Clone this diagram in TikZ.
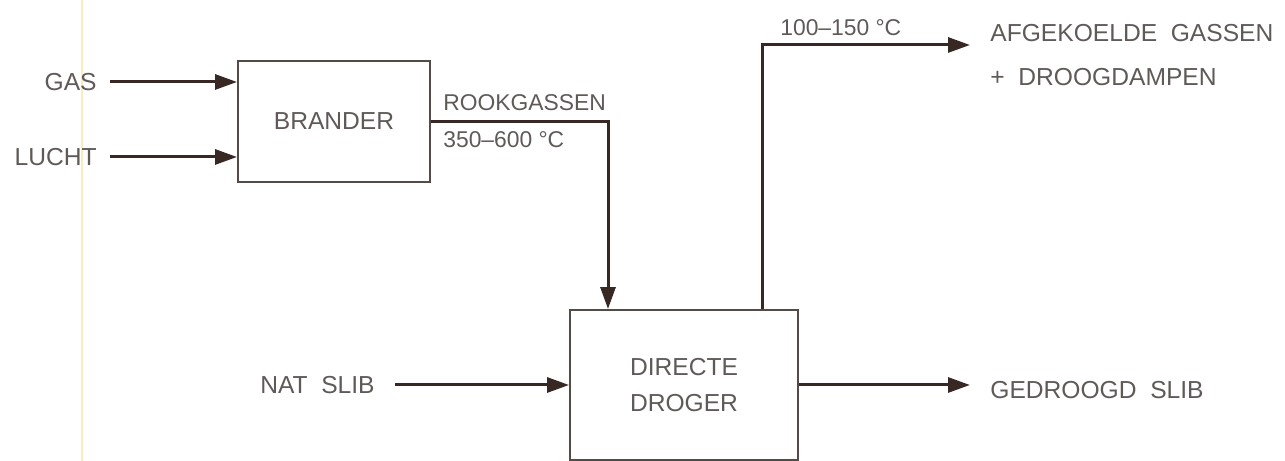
\documentclass[tikz,border=0pt]{standalone}
\usepackage{fontspec}
\setmainfont{Liberation Sans}
\usetikzlibrary{arrows.meta, positioning, calc}
\definecolor{flowline}{RGB}{55,40,35}
\definecolor{boxline}{RGB}{85,75,70}
\definecolor{labelgray}{RGB}{95,90,88}
\definecolor{scanyellow}{RGB}{252,236,190}

\begin{document}
\begin{tikzpicture}[
    box/.style={draw=boxline, line width=1.1pt, align=center,
                font=\fontsize{14}{20}\selectfont, text=labelgray},
    lbl/.style={font=\fontsize{14}{25}\selectfont, text=labelgray, inner sep=0pt, align=left},
    tmp/.style={font=\fontsize{13}{16}\selectfont, text=labelgray, inner sep=0pt},
    arr/.style={-{Triangle[length=4.4mm, width=3mm]}, line width=1.7pt, flowline}
  ]
    \useasboundingbox (0,0) rectangle (25.7,9.22);
    \draw[scanyellow, line width=1.2pt] (1.64,0) -- (1.64,9.22);

    \node[box, minimum width=3.84cm, minimum height=2.42cm] (brander) at (6.68,6.79) {BRANDER};
    \node[box, minimum width=4.56cm, minimum height=3.0cm] (droger) at (13.68,1.52) {DIRECTE\\DROGER};

    \node[lbl, anchor=east] (gas)   at (1.94,7.58) {GAS};
    \node[lbl, anchor=east] (lucht) at (1.94,6.08) {LUCHT};
    \node[lbl, anchor=east] (natslib) at (7.5,1.52) {NAT\ \ SLIB};
    \node[lbl, anchor=west] (afgas) at (19.8,8.11) {AFGEKOELDE\ \ GASSEN\\+\ \ DROOGDAMPEN};
    \node[lbl, anchor=west] (gedroogd) at (19.8,1.42) {GEDROOGD\ \ SLIB};

    \node[tmp, anchor=west] (rook) at (8.86,7.16) {ROOKGASSEN};
    \node[tmp, anchor=west] (heet) at (8.86,6.42) {350--600 \textdegree C};
    \node[tmp, anchor=west] (koud) at (15.6,8.66) {100--150 \textdegree C};

    \coordinate (rookbend) at (12.16,6.79);
    \coordinate (uitbend) at (15.24,8.32);
    \coordinate (uitend) at (19.4,8.32);
    \coordinate (slibend) at (19.4,1.52);

    \draw[arr, shorten <=0.26cm] (gas.east) -- (gas.east -| brander.west);
    \draw[arr, shorten <=0.26cm] (lucht.east) -- (lucht.east -| brander.west);
    \draw[arr] (brander.east) -- (rookbend) -- (rookbend |- droger.north);
    \draw[arr, shorten <=0.4cm] (natslib.east) -- (droger.west);
    \draw[arr] (uitbend |- droger.north) -- (uitbend) -- (uitend);
    \draw[arr] (droger.east) -- (slibend);
  \end{tikzpicture}
\end{document}
